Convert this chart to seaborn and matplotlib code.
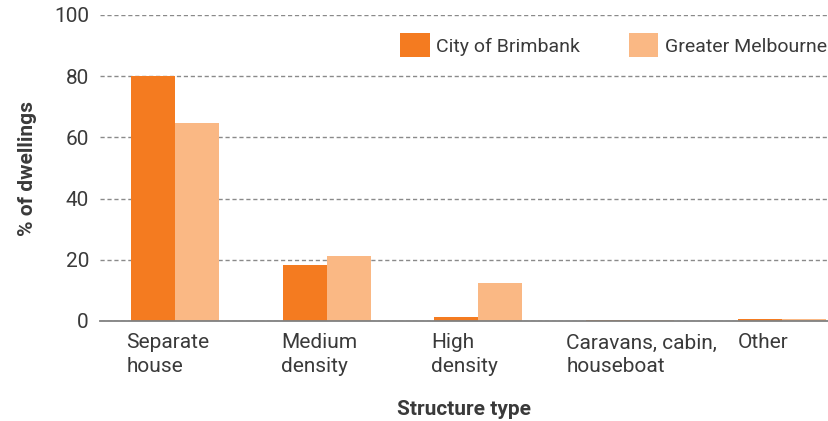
import seaborn as sns
import pandas as pd
import matplotlib.pyplot as plt

# Dwelling structure, % of dwellings
categories = ["Separate\nhouse", "Medium\ndensity", "High\ndensity",
              "Caravans, cabin,\nhouseboat", "Other"]
brimbank = [80.1, 18.4, 1.3, 0.3, 0.7]
melbourne = [64.8, 21.3, 12.4, 0.2, 0.5]
series = ["City of Brimbank", "Greater Melbourne"]
colors = ["#F47B20", "#FAB884"]

rows = []
for c, b, m in zip(categories, brimbank, melbourne):
    rows.append([c, series[0], b])
    rows.append([c, series[1], m])
df = pd.DataFrame(rows, columns=["Structure type", "Area", "Share"])

sns.set_style("white")
plt.rcParams["font.family"] = ["Roboto", "DejaVu Sans"]
txt = "#3a3a3a"

fig = plt.figure(figsize=(8.29, 4.21), dpi=100)
ax = fig.add_axes([100 / 829, 100 / 421, 729 / 829, 306 / 421])

bw = 0.58
sns.barplot(data=df, x="Structure type", y="Share", hue="Area",
            palette=colors, width=bw, saturation=1, linewidth=0, ax=ax)

ax.set_ylim(0, 100)
ax.set_xlim(-0.494, 4.31)
ax.set_yticks([0, 20, 40, 60, 80, 100])
ax.yaxis.grid(True, linestyle=(0, (3, 2)), color="#8a8a8a", linewidth=1)
ax.set_axisbelow(True)
for s in ["left", "right", "top"]:
    ax.spines[s].set_visible(False)
ax.spines["bottom"].set_color("#808080")
ax.spines["bottom"].set_linewidth(1.3)

ax.tick_params(axis="both", length=0, labelsize=15, labelcolor=txt)
ax.tick_params(axis="y", pad=8)
ax.tick_params(axis="x", pad=9)
# labels sit left-aligned near the left edge of each bar pair
label_shift = [-0.03, -0.01, -0.02, -0.13, 0.0]
ax.set_xticks([i - bw / 2 + d for i, d in enumerate(label_shift)])
ax.set_xticklabels(categories, ha="left", linespacing=1.3)

ax.set_ylabel("% of dwellings", fontsize=15, fontweight="bold", color=txt, labelpad=12)
ax.set_xlabel("Structure type", fontsize=15, fontweight="bold", color=txt, labelpad=17)

leg = ax.legend(loc="upper right", bbox_to_anchor=(1.008, 0.965), ncol=2, frameon=False,
                fontsize=14, handlelength=1.5, handleheight=1.5, handletextpad=0.35,
                columnspacing=2.5, borderaxespad=0)
for t in leg.get_texts():
    t.set_color(txt)

fig.savefig("out.png", dpi=100)
